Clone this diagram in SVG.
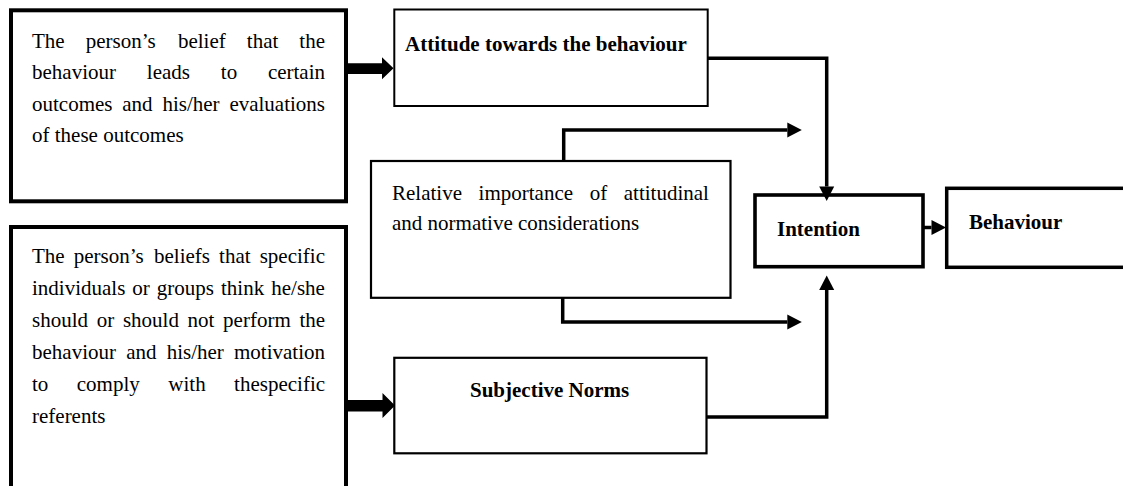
<svg xmlns="http://www.w3.org/2000/svg" width="1123" height="486" viewBox="0 0 1123 486">
<style>
.box{fill:#fff;stroke:#000}
.t{font-family:"Liberation Serif","Times New Roman",serif;font-size:21px;fill:#000}
.b{font-family:"Liberation Serif","Times New Roman",serif;font-size:21px;font-weight:bold;fill:#000}
.c{fill:none;stroke:#000;stroke-width:3.5}
</style>
<defs>
<marker id="ah" markerUnits="userSpaceOnUse" markerWidth="15" markerHeight="15" refX="0" refY="7.5" orient="auto" overflow="visible">
<path d="M0,0 L14.5,7.5 L0,15 z" fill="#000"/>
</marker>
</defs>
<rect width="1123" height="486" fill="#fff"/>

<g id="belief-attitude">
<rect class="box" x="11" y="10.3" width="335" height="191" stroke-width="4"/>
<text class="t" y="48"><tspan x="32">The</tspan><tspan x="85.8">person’s</tspan><tspan x="177.9">belief</tspan><tspan x="246.8">that</tspan><tspan x="299.3">the</tspan></text>
<text class="t" y="79.3"><tspan x="32">behaviour</tspan><tspan x="146.8">leads</tspan><tspan x="220.8">to</tspan><tspan x="267.9">certain</tspan></text>
<text class="t" y="110.6"><tspan x="32">outcomes</tspan><tspan x="122.3">and</tspan><tspan x="162.4">his/her</tspan><tspan x="229.4">evaluations</tspan></text>
<text class="t" x="32" y="141.9">of these outcomes</text>
</g>

<g id="belief-norms">
<rect class="box" x="11" y="227" width="335" height="290" stroke-width="4"/>
<text class="t" y="263.3"><tspan x="32">The</tspan><tspan x="73.8">person’s</tspan><tspan x="154">beliefs</tspan><tspan x="219.1">that</tspan><tspan x="259.7">specific</tspan></text>
<text class="t" y="295.2"><tspan x="32">individuals</tspan><tspan x="132.3">or</tspan><tspan x="156.8">groups</tspan><tspan x="221">think</tspan><tspan x="271.3">he/she</tspan></text>
<text class="t" y="327.1"><tspan x="32">should</tspan><tspan x="96.7">or</tspan><tspan x="122.9">should</tspan><tspan x="187.6">not</tspan><tspan x="223.1">perform</tspan><tspan x="299.4">the</tspan></text>
<text class="t" y="359"><tspan x="32">behaviour</tspan><tspan x="126.2">and</tspan><tspan x="166.7">his/her</tspan><tspan x="234">motivation</tspan></text>
<text class="t" y="390.9"><tspan x="32">to</tspan><tspan x="76.8">comply</tspan><tspan x="168.3">with</tspan><tspan x="234.1">thespecific</tspan></text>
<text class="t" x="32" y="422.8">referents</text>
</g>

<g id="attitude">
<rect class="box" x="394.3" y="9.5" width="313.4" height="96.5" stroke-width="2"/>
<text class="b" x="405" y="50.7">Attitude towards the behaviour</text>
</g>

<g id="relative">
<rect class="box" x="371" y="161" width="359.5" height="136.8" stroke-width="2.2"/>
<text class="t" y="199.5"><tspan x="392">Relative</tspan><tspan x="478.6">importance</tspan><tspan x="589.7">of</tspan><tspan x="623.8">attitudinal</tspan></text>
<text class="t" x="392" y="230">and normative considerations</text>
</g>

<g id="norms">
<rect class="box" x="394.3" y="357.8" width="312.2" height="95.5" stroke-width="2.2"/>
<text class="b" x="470" y="396.7">Subjective Norms</text>
</g>

<g id="intention">
<rect class="box" x="755" y="195" width="168" height="71.7" stroke-width="3.6"/>
<text class="b" x="777" y="236">Intention</text>
</g>

<g id="behaviour">
<rect class="box" x="946.7" y="188.3" width="190" height="79" stroke-width="3.5"/>
<text class="b" x="969" y="228.8">Behaviour</text>
</g>

<g id="connectors">
<polygon points="348,63.3 382,63.3 382,57.3 393.5,68.3 382,79.3 382,74 348,74" fill="#000"/>
<polygon points="347,400 382.5,400 382.5,393 395,405.5 382.5,418 382.5,411.5 347,411.5" fill="#000"/>
<path class="c" d="M707.7,58.3 H826.7 V186.5" marker-end="url(#ah)"/>
<path class="c" d="M563.7,161 V130 H787.3" marker-end="url(#ah)"/>
<path class="c" d="M562.7,297.8 V322 H787.3" marker-end="url(#ah)"/>
<path class="c" d="M706.5,417 H826.7 V290" marker-end="url(#ah)"/>
<path class="c" d="M923,227.5 H931.5" marker-end="url(#ah)"/>
</g>
</svg>
